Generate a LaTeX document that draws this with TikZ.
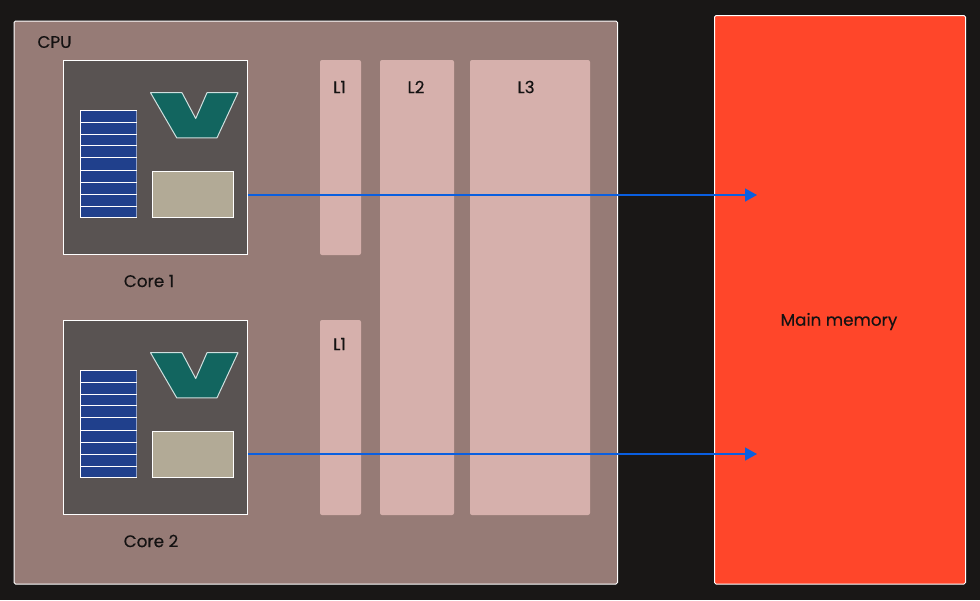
\documentclass[tikz,border=0pt]{standalone}
\usepackage{fontspec}
\newfontfamily\capfont[FakeBold=0.25]{Poppins}
\usetikzlibrary{arrows.meta,calc}
\definecolor{pagebg}{HTML}{191716}
\definecolor{cpufill}{HTML}{967B76}
\definecolor{corefill}{HTML}{595352}
\definecolor{regfill}{HTML}{20408C}
\definecolor{regedge}{HTML}{8FA0C8}
\definecolor{alufill}{HTML}{12655F}
\definecolor{ctlfill}{HTML}{B2AA96}
\definecolor{cachefill}{HTML}{D6B0AC}
\definecolor{memfill}{HTML}{FF462A}
\definecolor{busblue}{HTML}{0A5FE0}
\definecolor{inktext}{HTML}{141212}
\tikzset{
  block/.style={anchor=north west,inner sep=0pt,outer sep=0pt,draw=white,line width=1pt},
  cachebox/.style={anchor=north west,inner sep=0pt,outer sep=0pt,fill=cachefill,rounded corners=2pt},
  caption/.style={text=inktext,font=\capfont\fontsize{16.8}{20}\selectfont,inner sep=0pt},
  bus/.style={draw=busblue,line width=1.5pt,-{Triangle[length=12pt,width=13pt]}}
}
\begin{document}
\begin{tikzpicture}[x=1pt,y=-1pt]
  \useasboundingbox (0,0) rectangle (980,600);
  \fill[pagebg] (0,0) rectangle (980,600);

  % package and main memory
  \node[block,fill=cpufill,rounded corners=1.5pt,minimum width=603.5pt,minimum height=563pt] (cpu) at (14,21) {};
  \node[block,fill=memfill,rounded corners=1.5pt,minimum width=251pt,minimum height=568.5pt] (mem) at (714.5,15.5) {};
  \node[caption] (cpulabel) at (54.5,42) {CPU};
  \node[caption] (memlabel) at (839,321.5) {Main memory};

  % cache levels
  \node[cachebox,minimum width=41pt,minimum height=195pt] (l1a) at (320,60) {};
  \node[cachebox,minimum width=41pt,minimum height=195pt] (l1b) at (320,320) {};
  \node[cachebox,minimum width=74pt,minimum height=455pt] (l2) at (380,60) {};
  \node[cachebox,minimum width=120pt,minimum height=455pt] (l3) at (470,60) {};
  \node[caption] (l1atext) at (339.5,87) {L1};
  \node[caption] (l1btext) at (339.5,344) {L1};
  \node[caption] (l2text) at (416,87) {L2};
  \node[caption] (l3text) at (526,87) {L3};

  % one core: register file, ALU, control unit
  \foreach \n/\dy/\cx in {1/0/149,2/260/151} {
    \begin{scope}[yshift=-\dy pt]
      \node[block,fill=corefill,minimum width=184pt,minimum height=194pt] (core\n) at (63.5,60.5) {};
      \node[block,fill=regfill,minimum width=55.5pt,minimum height=106.5pt] (reg\n) at (80.5,110.5) {};
      \draw[regedge,line width=1pt] (136,111) -- (136,216.5);
      \foreach \ly in {122.3,134.3,145.5,157.3,170.3,182.3,194.3,206.3}
        \draw[white,line width=0.9pt] (80,\ly) -- (136.5,\ly);
      \filldraw[fill=alufill,draw=white!80!alufill,line width=1pt,line join=round]
        (150.5,92.7) -- (182,92.7) -- (195.7,118.5) -- (207,92.7) -- (238,92.7)
        -- (217,137.8) -- (176.7,137.8) -- cycle;
      \node[block,fill=ctlfill,minimum width=81pt,minimum height=46pt] (ctl\n) at (152.5,171.3) {};
      \node[caption] (corelabel\n) at (\cx,281) {Core \n};
    \end{scope}
  }

  % memory buses
  \coordinate (in1) at (757,195);
  \coordinate (in2) at (757,454);
  \draw[bus] (core1.east |- in1) -- (in1);
  \draw[bus] (core2.east |- in2) -- (in2);
\end{tikzpicture}
\end{document}
